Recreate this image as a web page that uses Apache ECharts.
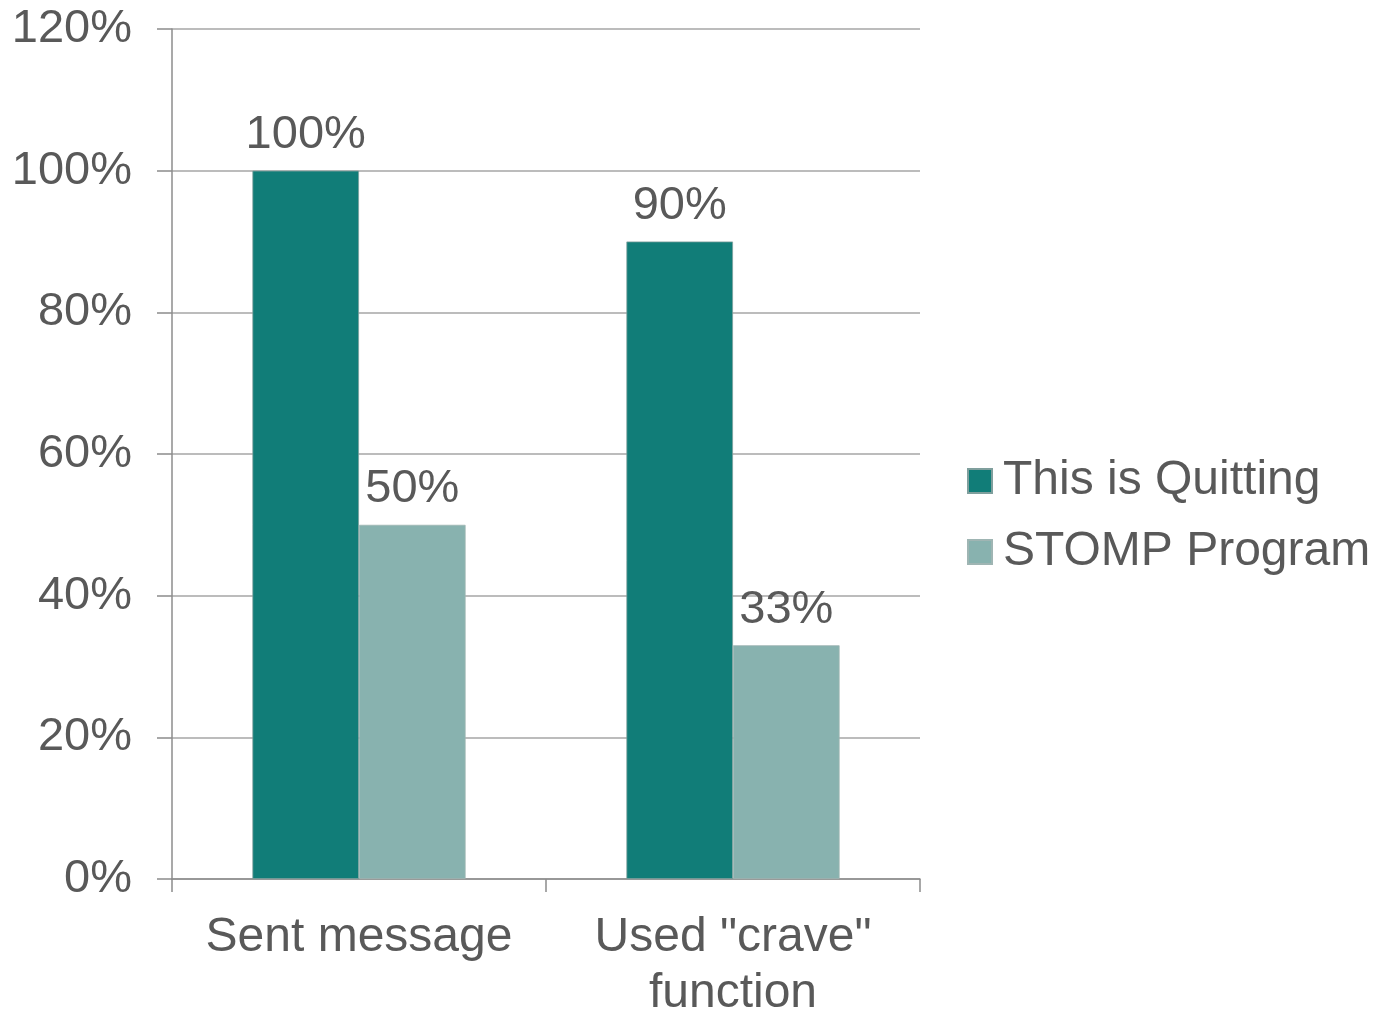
<!DOCTYPE html>
<html>
<head>
<meta charset="utf-8">
<script src="https://cdn.jsdelivr.net/npm/echarts@6/dist/echarts.min.js"></script>
<style>html,body{margin:0;padding:0;background:#fff;}#c{width:1375px;height:1010px;}</style>
</head>
<body>
<div id="c"></div>
<script>
const categories = ['Sent message', 'Used "crave"\nfunction'];
const seriesNames = ['This is Quitting', 'STOMP Program'];
const quittingValues = [100, 90];
const stompValues = [50, 33];
const yTicks = { min: 0, max: 120, interval: 20 };

const FONT = '"Liberation Sans", Arial, sans-serif';
const TXT = '#595959';
const colors = ['#117D78', '#88B2AF'];

const chart = echarts.init(document.getElementById('c'));
const labelCfg = {
  show: true, position: 'top', distance: 12,
  formatter: p => p.value + '%',
  color: TXT, fontFamily: FONT, fontSize: 47
};
chart.setOption({
  animation: false,
  color: colors,
  grid: { left: 172, right: 455, top: 29, bottom: 131, containLabel: false, outerBoundsMode: 'none' },
  legend: {
    orient: 'vertical', left: 962, top: 452,
    itemWidth: 24, itemHeight: 24, itemGap: 23,
    icon: 'rect',
    textStyle: { color: TXT, fontFamily: FONT, fontSize: 48, lineHeight: 47, padding: [0, 0, 0, 6] },
    data: seriesNames
  },
  xAxis: {
    type: 'category', data: categories,
    axisLine: { lineStyle: { color: '#8C8C8C', width: 1.5 } },
    axisTick: { show: true, length: 13, lineStyle: { color: '#8C8C8C', width: 1.5 } },
    axisLabel: { color: TXT, fontFamily: FONT, fontSize: 48, lineHeight: 56, margin: 31, interval: 0 }
  },
  yAxis: {
    type: 'value', min: yTicks.min, max: yTicks.max, interval: yTicks.interval,
    axisLine: { show: true, lineStyle: { color: '#8C8C8C', width: 1.5 } },
    axisTick: { show: true, length: 15, lineStyle: { color: '#8C8C8C', width: 1.5 } },
    splitLine: { lineStyle: { color: '#A6A6A6', width: 1.5 } },
    axisLabel: { color: TXT, fontFamily: FONT, fontSize: 47, margin: 40, formatter: v => v + '%' }
  },
  series: [
    { name: seriesNames[0], type: 'bar', data: quittingValues, barGap: '0%', barCategoryGap: '43%',
      itemStyle: { color: colors[0], borderColor: '#7f9f9d', borderWidth: 0.8 }, label: labelCfg },
    { name: seriesNames[1], type: 'bar', data: stompValues, barGap: '0%', barCategoryGap: '43%',
      itemStyle: { color: colors[1], borderColor: '#9fb5b3', borderWidth: 0.8 }, label: labelCfg }
  ]
});
</script>
</body>
</html>
